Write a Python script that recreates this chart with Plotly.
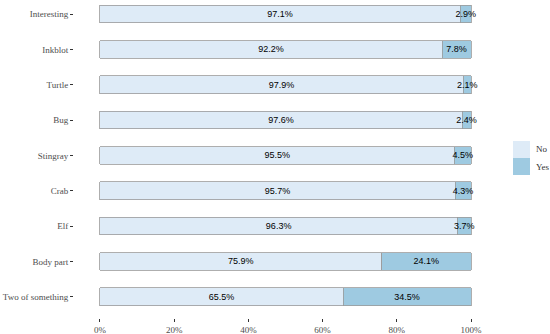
import plotly.graph_objects as go

categories = ["Interesting", "Inkblot", "Turtle", "Bug", "Stingray", "Crab", "Elf", "Body part", "Two of something"]
no_vals = [97.1, 92.2, 97.9, 97.6, 95.5, 95.7, 96.3, 75.9, 65.5]
yes_vals = [2.9, 7.8, 2.1, 2.4, 4.5, 4.3, 3.7, 24.1, 34.5]
series_names = ["No", "Yes"]
series_colors = ["#deebf7", "#9ecae1"]
x_ticks = [0, 20, 40, 60, 80, 100]
x_tick_labels = ["0%", "20%", "40%", "60%", "80%", "100%"]

order = categories[::-1]
SERIF = "Liberation Serif, Times New Roman, serif"

fig = go.Figure()
for name, vals, color in zip(series_names, [no_vals, yes_vals], series_colors):
    fig.add_trace(go.Bar(
        y=categories, x=vals, name=name, orientation="h",
        marker=dict(color=color, line=dict(color="#9a9a9a", width=0.8)),
        width=0.5,
        text=[f"{v:.1f}%" for v in vals],
        textposition="inside", insidetextanchor="middle",
        constraintext="none", textangle=0,
        textfont=dict(family="Liberation Sans, Arial, sans-serif", size=9, color="black"),
        cliponaxis=False, showlegend=False,
    ))

# Layout geometry (pixels)
L = 74; PW = 423; PH = 318
def px_x(p): return (p - L) / PW
def px_y(p): return 1 - p / PH

# Legend drawn as keys + labels (ggplot style: adjacent square keys)
key_top = 141
for i, (name, color) in enumerate(zip(series_names, series_colors)):
    y0 = key_top + i * 17
    fig.add_shape(type="rect", xref="paper", yref="paper",
                  x0=px_x(513), x1=px_x(530), y0=px_y(y0 + 17), y1=px_y(y0),
                  fillcolor=color, line=dict(width=0))
    fig.add_annotation(xref="paper", yref="paper", x=px_x(534), y=px_y(y0 + 8.5),
                       text=name, showarrow=False, xanchor="left", yanchor="middle",
                       font=dict(family=SERIF, size=9, color="#333333"))

fig.update_layout(
    barmode="stack",
    width=550, height=334,
    margin=dict(l=L, r=550 - L - PW, t=0, b=334 - PH),
    paper_bgcolor="white", plot_bgcolor="white",
    showlegend=False,
    font=dict(family=SERIF),
)
fig.update_xaxes(range=[-7, 107], tickvals=x_ticks, ticktext=x_tick_labels,
                 showgrid=False, zeroline=False, showline=False,
                 ticks="outside", ticklen=3, tickwidth=1, tickcolor="#333333",
                 tickfont=dict(family=SERIF, size=9, color="#4d4d4d"))
fig.update_yaxes(type="category", categoryorder="array", categoryarray=order,
                 range=[-0.6, 8.4], showgrid=False, zeroline=False, showline=False,
                 ticks="outside", ticklen=3, tickwidth=1, tickcolor="#333333",
                 tickfont=dict(family=SERIF, size=9, color="#4d4d4d"))

fig.write_html("out.html", config={"displayModeBar": False},
               post_script="document.body.style.margin='0';")
